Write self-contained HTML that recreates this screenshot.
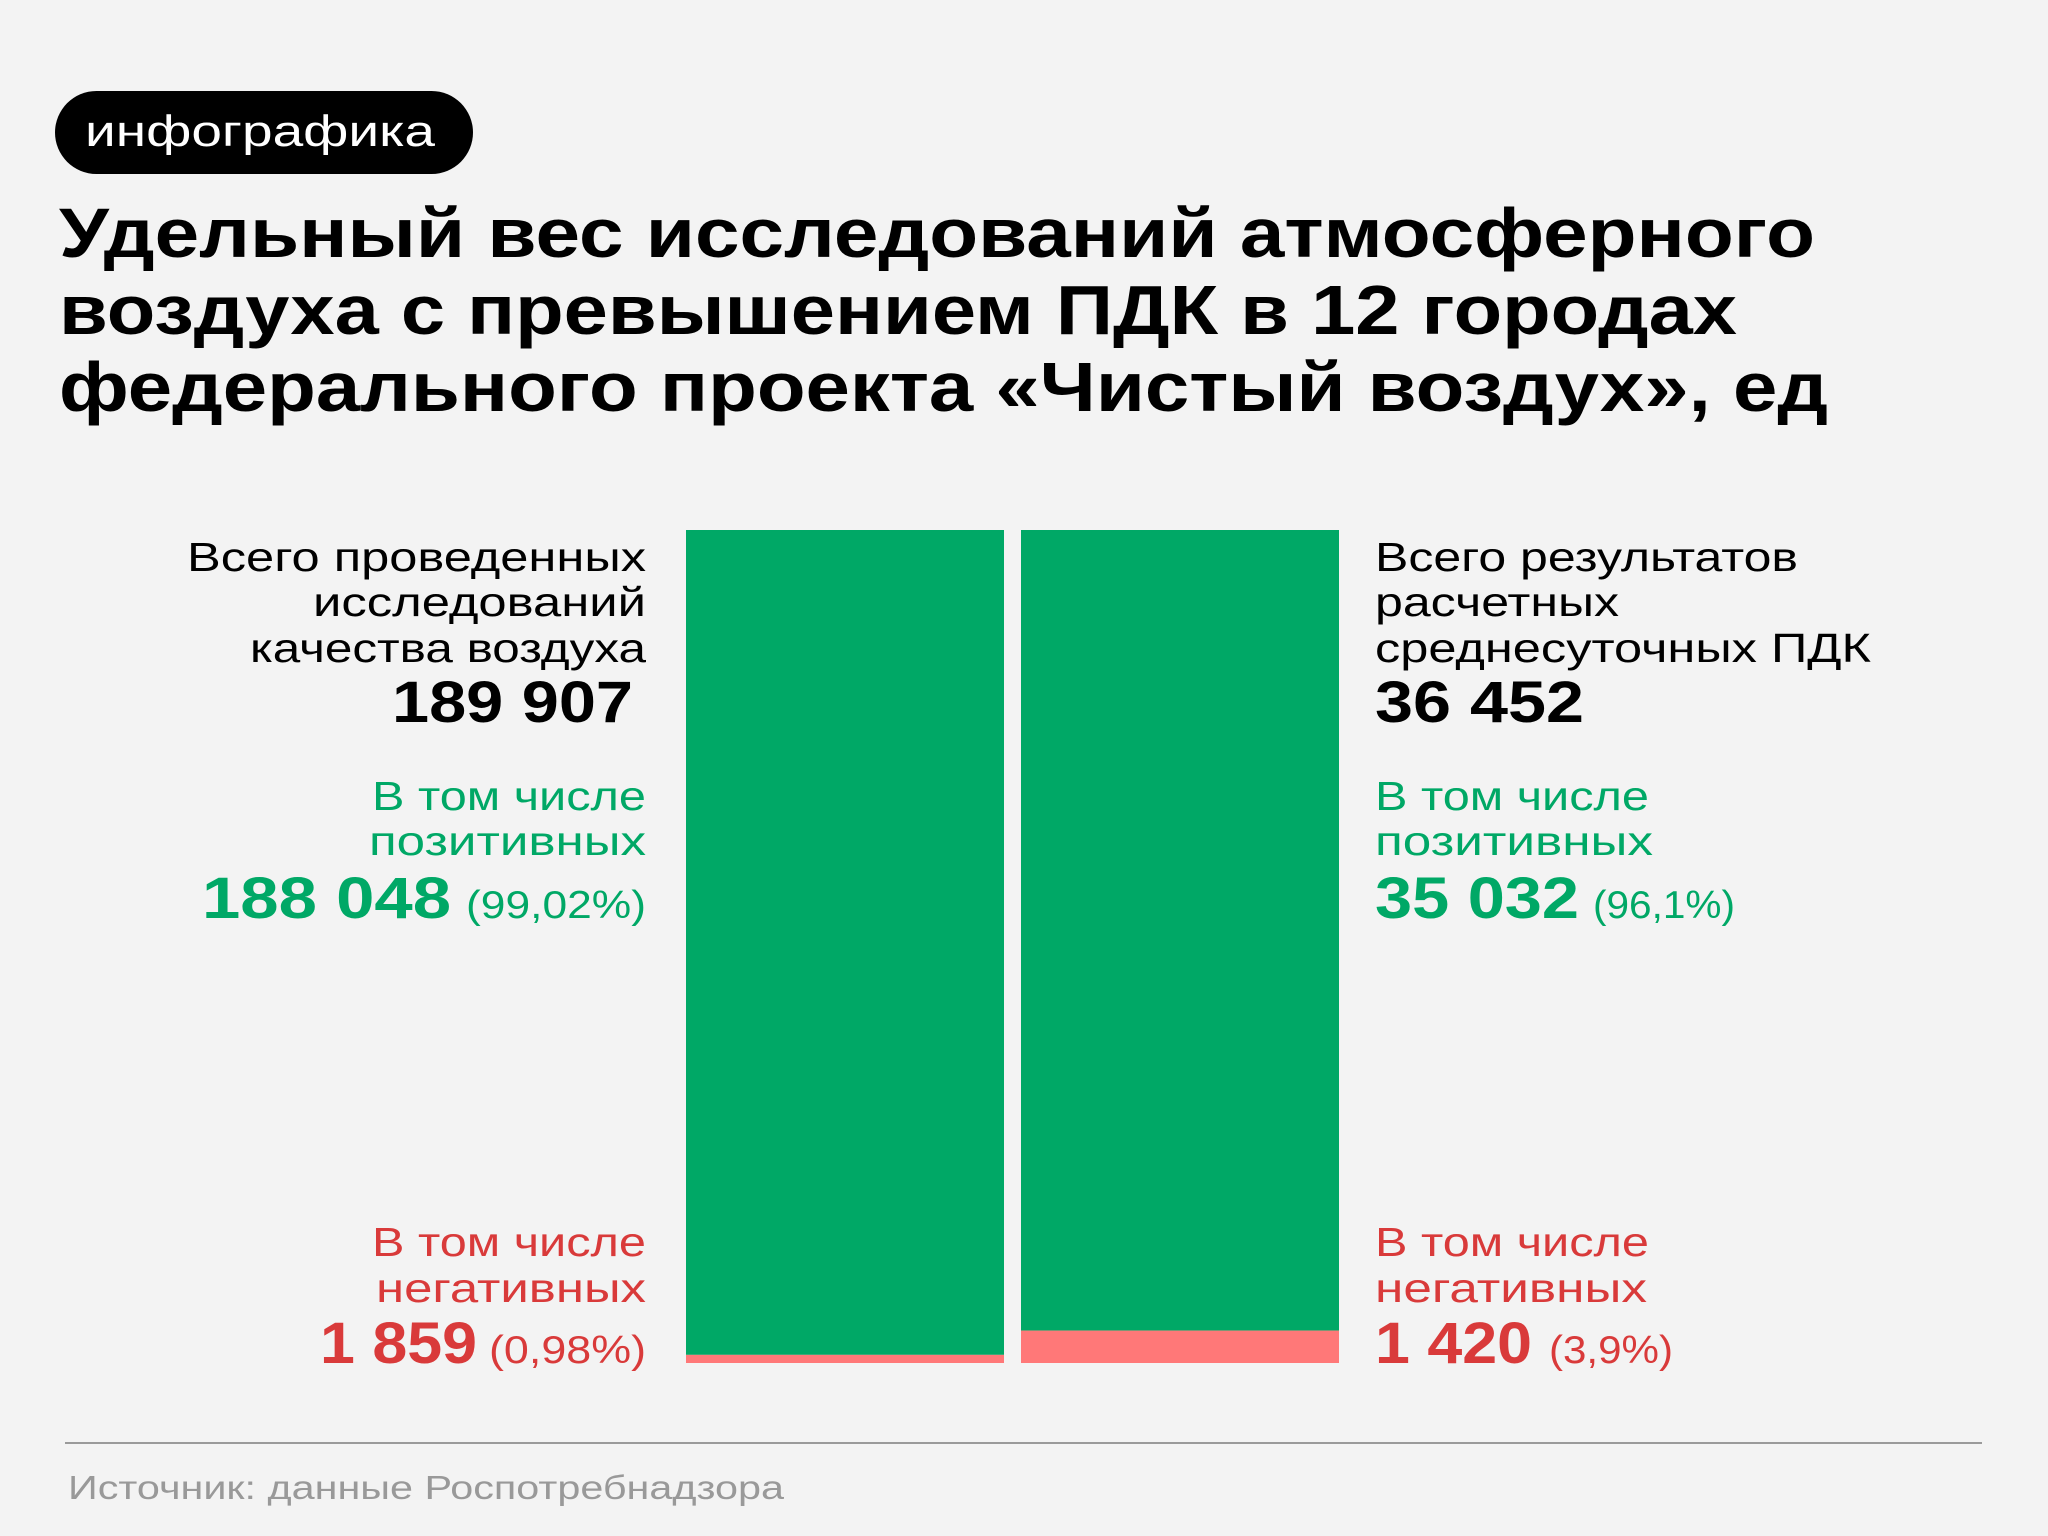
<!DOCTYPE html>
<html><head><meta charset="utf-8"><style>
html,body{margin:0;padding:0;background:#f3f3f3}
svg{display:block;font-family:"Liberation Sans",sans-serif}
</style></head><body>
<svg id="chart" width="2048" height="1536" viewBox="0 0 2048 1536" xmlns="http://www.w3.org/2000/svg">
<rect width="2048" height="1536" fill="#f3f3f3"/>
<g>
<rect x="55" y="91" width="418" height="83" rx="41.5" fill="#000"/>
<text x="85" y="146" font-size="44" fill="#fff" textLength="350" lengthAdjust="spacingAndGlyphs">инфографика</text>
</g>
<g font-weight="bold" font-size="70" fill="#000">
<text x="59" y="257" textLength="1756" lengthAdjust="spacingAndGlyphs">Удельный вес исследований атмосферного</text>
<text x="59" y="334" textLength="1678" lengthAdjust="spacingAndGlyphs">воздуха с превышением ПДК в 12 городах</text>
<text x="59" y="411" textLength="1769" lengthAdjust="spacingAndGlyphs">федерального проекта «Чистый воздух», ед</text>
</g>
<g id="bars"></g>
<g font-size="41" text-anchor="end">
<text x="646" y="571" textLength="459" lengthAdjust="spacingAndGlyphs">Всего проведенных</text>
<text x="646" y="616" textLength="333" lengthAdjust="spacingAndGlyphs">исследований</text>
<text x="646" y="662" textLength="396" lengthAdjust="spacingAndGlyphs">качества воздуха</text>
<text x="633" y="722" font-size="58" font-weight="bold" textLength="241" lengthAdjust="spacingAndGlyphs">189 907</text>
<text x="646" y="810" fill="#00a866" textLength="274" lengthAdjust="spacingAndGlyphs">В том числе</text>
<text x="646" y="855" fill="#00a866" textLength="277" lengthAdjust="spacingAndGlyphs">позитивных</text>
<text x="451" y="918" font-size="58" font-weight="bold" fill="#00a866" textLength="249" lengthAdjust="spacingAndGlyphs">188 048</text>
<text x="646" y="918" font-size="39" fill="#00a866" textLength="180" lengthAdjust="spacingAndGlyphs">(99,02%)</text>
<text x="646" y="1256" fill="#d93a3a" textLength="274" lengthAdjust="spacingAndGlyphs">В том числе</text>
<text x="646" y="1302" fill="#d93a3a" textLength="270" lengthAdjust="spacingAndGlyphs">негативных</text>
<text x="477" y="1363" font-size="58" font-weight="bold" fill="#d93a3a" textLength="157" lengthAdjust="spacingAndGlyphs">1 859</text>
<text x="646" y="1363" font-size="39" fill="#d93a3a" textLength="157" lengthAdjust="spacingAndGlyphs">(0,98%)</text>
</g>
<g font-size="41">
<text x="1375" y="571" textLength="423" lengthAdjust="spacingAndGlyphs">Всего результатов</text>
<text x="1375" y="616" textLength="244" lengthAdjust="spacingAndGlyphs">расчетных</text>
<text x="1375" y="662" textLength="496" lengthAdjust="spacingAndGlyphs">среднесуточных ПДК</text>
<text x="1375" y="722" font-size="58" font-weight="bold" textLength="209" lengthAdjust="spacingAndGlyphs">36 452</text>
<text x="1375" y="810" fill="#00a866" textLength="274" lengthAdjust="spacingAndGlyphs">В том числе</text>
<text x="1375" y="855" fill="#00a866" textLength="278" lengthAdjust="spacingAndGlyphs">позитивных</text>
<text x="1375" y="918" font-size="58" font-weight="bold" fill="#00a866" textLength="204" lengthAdjust="spacingAndGlyphs">35 032</text>
<text x="1593" y="918" font-size="39" fill="#00a866" textLength="142" lengthAdjust="spacingAndGlyphs">(96,1%)</text>
<text x="1375" y="1256" fill="#d93a3a" textLength="274" lengthAdjust="spacingAndGlyphs">В том числе</text>
<text x="1375" y="1302" fill="#d93a3a" textLength="272" lengthAdjust="spacingAndGlyphs">негативных</text>
<text x="1375" y="1363" font-size="58" font-weight="bold" fill="#d93a3a" textLength="157" lengthAdjust="spacingAndGlyphs">1 420</text>
<text x="1549" y="1363" font-size="39" fill="#d93a3a" textLength="124" lengthAdjust="spacingAndGlyphs">(3,9%)</text>
</g>
<line x1="65" y1="1443" x2="1982" y2="1443" stroke="#9a9a9a" stroke-width="2"/>
<text x="68" y="1499" font-size="33" fill="#999" textLength="716" lengthAdjust="spacingAndGlyphs">Источник: данные Роспотребнадзора</text>
</svg>
<script>
const categories = ["Исследования", "ПДК"];
const positiveValues = [188048, 35032];
const negativeValues = [1859, 1420];

const ns = "http://www.w3.org/2000/svg";
const g = document.getElementById("bars");
const barX = [686, 1021];
const barW = 318;
const baseY = 1363;
const fullH = 833;
function yScale(frac) { return fullH * frac; }
categories.forEach((c, i) => {
  const total = positiveValues[i] + negativeValues[i];
  const negH = yScale(negativeValues[i] / total);
  const posH = yScale(positiveValues[i] / total);
  const pos = document.createElementNS(ns, "rect");
  pos.setAttribute("x", barX[i]);
  pos.setAttribute("y", baseY - negH - posH);
  pos.setAttribute("width", barW);
  pos.setAttribute("height", posH);
  pos.setAttribute("fill", "#00a866");
  
  
  g.appendChild(pos);
  const neg = document.createElementNS(ns, "rect");
  neg.setAttribute("x", barX[i]);
  neg.setAttribute("y", baseY - negH);
  neg.setAttribute("width", barW);
  neg.setAttribute("height", negH);
  neg.setAttribute("fill", "#ff7878");
  
  
  g.appendChild(neg);
});
</script>
</body></html>
